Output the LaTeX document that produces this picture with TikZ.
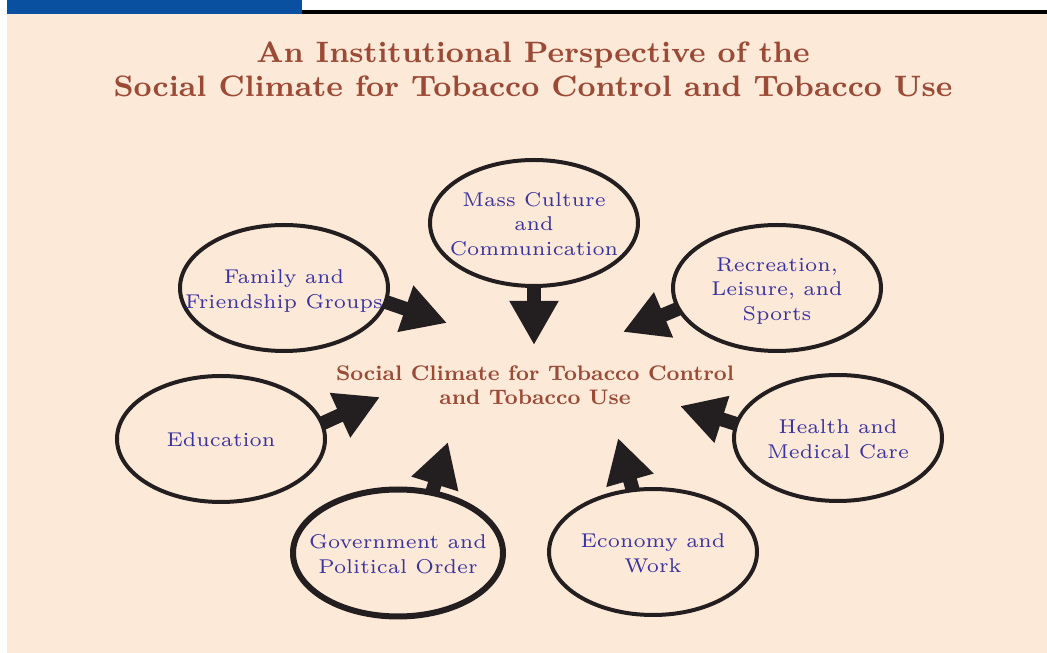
\documentclass[tikz,border=0pt]{standalone}
\usepackage{graphicx}
\usepackage{tikz}
\usetikzlibrary{arrows.meta, shapes.geometric, backgrounds}
\definecolor{peach}{RGB}{253,233,216}
\definecolor{barBlue}{RGB}{10,80,160}
\definecolor{rust}{RGB}{155,74,54}
\definecolor{inkBlue}{RGB}{58,52,160}
\definecolor{ink}{RGB}{35,31,32}
% wide small-size Latin Modern, blown up
\newcommand{\bubbletext}[1]{\scalebox{3.33}{\fontsize{6}{7.36}\selectfont\begin{tabular}{@{}c@{}}#1\end{tabular}}}
\newcommand{\headtext}[2]{\scalebox{#1}{\fontsize{8}{9.2}\selectfont\bfseries\begin{tabular}{@{}c@{}}#2\end{tabular}}}

\begin{document}
\begin{tikzpicture}[x=1pt, y=1pt,
	oval/.style={ellipse, draw=ink, line width=4pt, fill=peach, minimum width=208pt, minimum height=126pt, inner sep=0pt},
	oval text/.style={inner sep=0pt, yshift=-3pt, text=inkBlue},
	flow/.style={draw=ink, line width=14pt, shorten <=-10pt, -{Triangle[length=44pt, width=46pt]}}]
	\useasboundingbox (0,0) rectangle (1047,653);
	\begin{scope}[on background layer]
		\fill[peach] (7,0) rectangle (1047,639);
		\fill[barBlue] (7,639) rectangle (302,653);
		\fill[black] (302,639) rectangle (1047,643);
	\end{scope}

	\node[inner sep=0pt, text=rust] (title) at (533,580) {\headtext{3.69}{An Institutional Perspective of the\\Social Climate for Tobacco Control and Tobacco Use}};
	\node[inner sep=0pt, text=rust] (climate) at (535,265) {\headtext{2.63}{Social Climate for Tobacco Control\\and Tobacco Use}};

	% the seven institutions
	\node[oval] (mass) at (534,430) {};
	\node[oval] (family) at (284,365) {};
	\node[oval] (leisure) at (777,365) {};
	\node[oval] (school) at (221,214) {};
	\node[oval] (health) at (838,215) {};
	\node[oval, line width=6pt, minimum width=210pt, minimum height=127pt] (govt) at (398,100) {};
	\node[oval] (economy) at (653,101) {};

	\node[oval text] at (mass) {\bubbletext{Mass Culture\\and\\Communication}};
	\node[oval text] at (family) {\bubbletext{Family and\\Friendship Groups}};
	\node[oval text] at (leisure) {\bubbletext{Recreation,\\Leisure, and\\Sports}};
	\node[oval text] at (school) {\bubbletext{Education}};
	\node[oval text] at (health) {\bubbletext{Health and\\Medical Care}};
	\node[oval text] at (govt) {\bubbletext{Government and\\Political Order}};
	\node[oval text] at (economy) {\bubbletext{Economy and\\Work}};

	% arrow tips around the centre
	\coordinate (tMass) at (534,308);
	\coordinate (tFamily) at (447,330);
	\coordinate (tLeisure) at (623,321);
	\coordinate (tSchool) at (380,256);
	\coordinate (tHealth) at (680,247);
	\coordinate (tGovt) at (448,211);
	\coordinate (tEconomy) at (618,215);

	\begin{scope}[on background layer]
		\draw[flow] (mass.south) -- (tMass);
		\draw[flow] (family.-8) -- (tFamily);
		\draw[flow] (leisure.192) -- (tLeisure);
		\draw[flow] (school.9) -- (tSchool);
		\draw[flow] (health.172) -- (tHealth);
		\draw[flow] (govt.61) -- (tGovt);
		\draw[flow] (economy.108) -- (tEconomy);
	\end{scope}
\end{tikzpicture}
\end{document}
